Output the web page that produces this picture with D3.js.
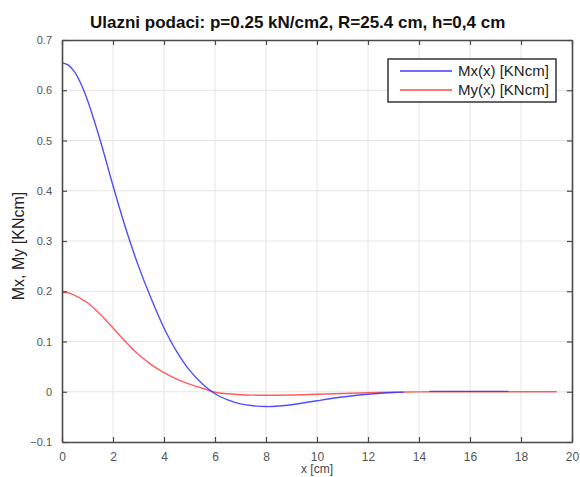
<!doctype html>
<html lang="bs">
<head>
  <meta charset="utf-8" />
  <title>Ulazni podaci</title>
  <style>
    html, body {
      margin: 0;
      padding: 0;
      background: #fff;
    }
    svg {
      display: block;
      font-family: "Liberation Sans", Arial, sans-serif;
    }
  </style>
</head>
<body>

<svg id="chart" width="580" height="477"></svg>

<script src="https://cdn.jsdelivr.net/npm/d3@7"></script>
<script>

// Data
var titleText = 'Ulazni podaci: p=0.25 kN/cm2, R=25.4 cm, h=0,4 cm';
var xLabel = 'x [cm]';
var yLabel = 'Mx, My [KNcm]';
var seriesNames = ['Mx(x) [KNcm]', 'My(x) [KNcm]'];

var xTicks = [0, 2, 4, 6, 8, 10, 12, 14, 16, 18, 20];
var yTicks = [-0.1, 0, 0.1, 0.2, 0.3, 0.4, 0.5, 0.6, 0.7];

// Mx(x): main part, then a separate flat piece further out
var mxX = [0, 0.25, 0.5, 0.75, 1, 1.5, 2, 2.5, 3, 3.5, 4, 4.5, 5, 5.5, 6, 6.5, 7, 7.5, 8, 8.5, 9, 9.5, 10, 10.5, 11, 11.5, 12, 12.5, 13, 13.4];
var mxY = [0.655, 0.650, 0.636, 0.612, 0.580, 0.500, 0.410, 0.325, 0.250, 0.185, 0.127, 0.080, 0.043, 0.016, -0.004, -0.016, -0.024, -0.028, -0.0295, -0.0285, -0.026, -0.022, -0.018, -0.014, -0.0105, -0.0075, -0.005, -0.003, -0.0015, -0.0008];
var mxTailX = [14.4, 15, 16, 17, 17.5];
var mxTailY = [0.0008, 0.0008, 0.0008, 0.0008, 0.0008];

// My(x)
var myX = [0, 0.25, 0.5, 0.75, 1, 1.5, 2, 2.5, 3, 3.5, 4, 4.5, 5, 5.5, 6, 6.5, 7, 7.5, 8, 9, 10, 11, 12, 13, 14, 15, 16, 17, 18, 19, 19.4];
var myY = [0.198, 0.1965, 0.192, 0.185, 0.177, 0.154, 0.127, 0.099, 0.074, 0.054, 0.038, 0.025, 0.015, 0.007, -0.001, -0.004, -0.006, -0.0068, -0.007, -0.0065, -0.005, -0.0035, -0.002, -0.001, -0.0003, 0, 0, 0, 0, 0, 0];

// Layout (note: "top" is taken by window.top, so use plot* names)
var svg = d3.select('#chart');
var plotLeft = 62, plotRight = 572, plotTop = 40, plotBottom = 442;

var x = d3.scaleLinear().domain([0, 20]).range([plotLeft, plotRight]);
var y = d3.scaleLinear().domain([-0.1, 0.7]).range([plotBottom, plotTop]);

var colors = ['#3b3bff', '#ff4a4a'];

// Grid
var grid = svg.append('g');
grid.selectAll('line.vx')
  .data(xTicks.slice(1, -1))
  .enter().append('line')
  .attr('x1', function (d) { return x(d); })
  .attr('x2', function (d) { return x(d); })
  .attr('y1', plotTop).attr('y2', plotBottom)
  .attr('stroke', '#e4e4e4').attr('stroke-width', 1);
grid.selectAll('line.hy')
  .data(yTicks.slice(1, -1))
  .enter().append('line')
  .attr('y1', function (d) { return y(d); })
  .attr('y2', function (d) { return y(d); })
  .attr('x1', plotLeft).attr('x2', plotRight)
  .attr('stroke', '#e4e4e4').attr('stroke-width', 1);

// Lines
var line = d3.line()
  .x(function (d) { return x(d[0]); })
  .y(function (d) { return y(d[1]); })
  .curve(d3.curveCatmullRom.alpha(0.5));

var curves = [
  { pts: d3.zip(myX, myY), color: colors[1] },
  { pts: d3.zip(mxX, mxY), color: colors[0] },
  { pts: d3.zip(mxTailX, mxTailY), color: colors[0] }
];

svg.append('g').selectAll('path')
  .data(curves)
  .enter().append('path')
  .attr('d', function (d) { return line(d.pts); })
  .attr('fill', 'none')
  .attr('stroke', function (d) { return d.color; })
  .attr('stroke-width', 1.4)
  .attr('stroke-opacity', 0.9);

// Axes (ticks point inward, box on all four sides)
var axisColor = '#4a4a4a';
var tickFmt = function (d) { return d3.format('~g')(d); };

var gB = svg.append('g').attr('transform', 'translate(0,' + plotBottom + ')')
  .call(d3.axisBottom(x).tickValues(xTicks).tickSizeInner(-5).tickSizeOuter(0).tickPadding(10).tickFormat(tickFmt));
var gT = svg.append('g').attr('transform', 'translate(0,' + plotTop + ')')
  .call(d3.axisTop(x).tickValues(xTicks).tickSizeInner(-5).tickSizeOuter(0).tickFormat(''));
var gL = svg.append('g').attr('transform', 'translate(' + plotLeft + ',0)')
  .call(d3.axisLeft(y).tickValues(yTicks).tickSizeInner(-5).tickSizeOuter(0).tickPadding(10).tickFormat(tickFmt));
var gR = svg.append('g').attr('transform', 'translate(' + plotRight + ',0)')
  .call(d3.axisRight(y).tickValues(yTicks).tickSizeInner(-5).tickSizeOuter(0).tickFormat(''));

[gB, gT, gL, gR].forEach(function (g) {
  g.select('.domain').attr('stroke', axisColor).attr('stroke-width', 1.6);
  g.selectAll('.tick line').attr('stroke', axisColor).attr('stroke-width', 1.2);
  g.selectAll('.tick text')
    .attr('fill', '#555')
    .style('font-family', '"Liberation Sans", Arial, sans-serif');
});
gB.selectAll('.tick text').style('font-size', '12px');
gL.selectAll('.tick text').style('font-size', '11px');

// Title and labels
svg.append('text')
  .attr('x', 90).attr('y', 28)
  .style('font-size', '17px').style('font-weight', 'bold')
  .attr('fill', '#111')
  .text(titleText);

svg.append('text')
  .attr('x', (plotLeft + plotRight) / 2).attr('y', 473)
  .attr('text-anchor', 'middle')
  .style('font-size', '12px')
  .attr('fill', '#444')
  .text(xLabel);

svg.append('text')
  .attr('transform', 'translate(24,246) rotate(-90)')
  .attr('text-anchor', 'middle')
  .style('font-size', '16px')
  .attr('fill', '#222')
  .text(yLabel);

// Legend
var legend = svg.append('g').attr('transform', 'translate(388,59)');
legend.append('rect')
  .attr('width', 168).attr('height', 43)
  .attr('fill', '#fff')
  .attr('stroke', '#333').attr('stroke-width', 1.5);
var items = legend.selectAll('g.item')
  .data(seriesNames)
  .enter().append('g')
  .attr('transform', function (d, i) { return 'translate(0,' + (12 + i * 19) + ')'; });
items.append('line')
  .attr('x1', 12).attr('x2', 64)
  .attr('stroke', function (d, i) { return colors[i]; })
  .attr('stroke-width', 1.6);
items.append('text')
  .attr('x', 70).attr('y', 5)
  .style('font-size', '15px')
  .attr('fill', '#222')
  .text(function (d) { return d; });

</script>

</body>
</html>
